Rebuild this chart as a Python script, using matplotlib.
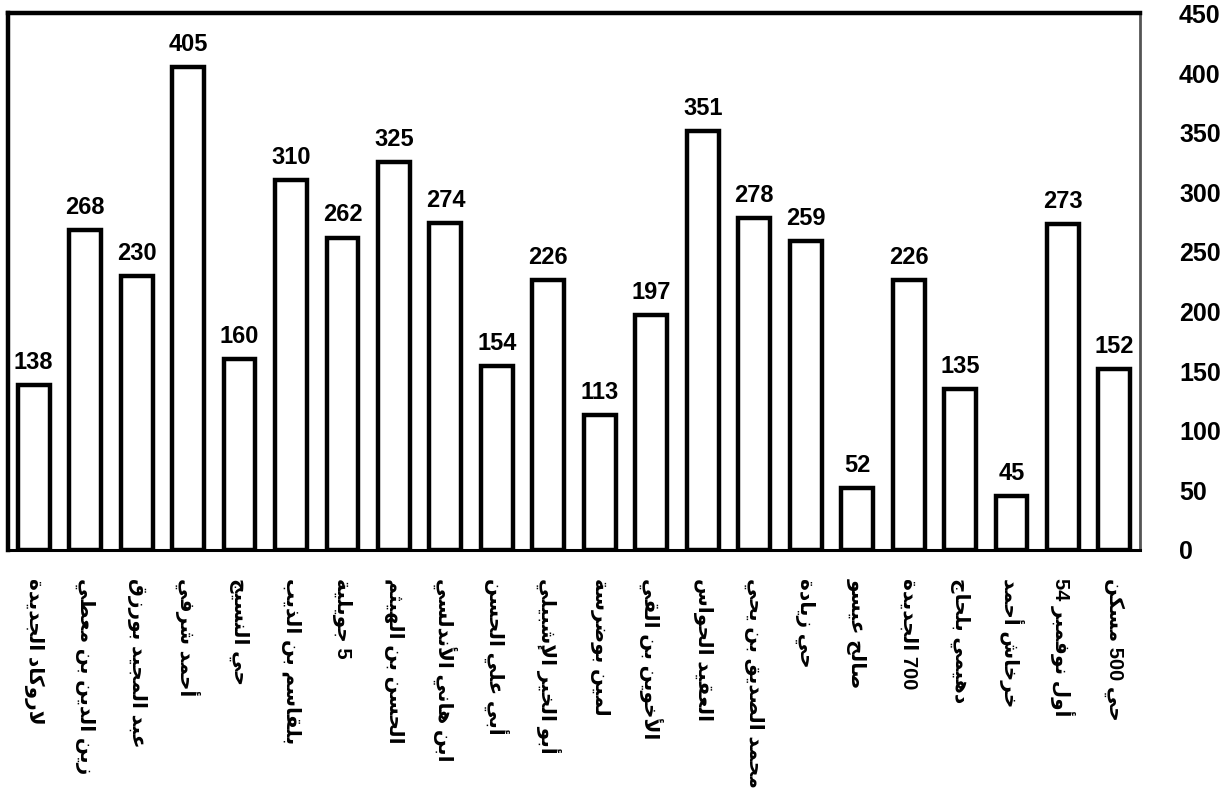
import matplotlib
matplotlib.use("Agg")
import matplotlib.pyplot as plt

districts = [
    "لاروكاد الجديدة", "زين الدين بن معطي", "عبد المجيد بورزق", "أحمد شرفي",
    "حي النسيج", "بلقاسم بن الذيب", "5 جويلية", "الحسن بن الهيثم",
    "ابن هاني الأندلسي", "أبي علي الحسن", "أبو الخير الإشبيلي", "لمين بوضرسة",
    "الأخوين بن القي", "العقيد الحواس", "محمد الصديق بن يحي", "حي زيادة",
    "صالح عيسو", "700 الجديدة", "دهيمي بلحاج", "خرخاش أحمد",
    "أول نوفمبر 54", "حي 500 مسكن",
]
counts = [138, 268, 230, 405, 160, 310, 262, 325, 274, 154, 226,
          113, 197, 351, 278, 259, 52, 226, 135, 45, 273, 152]
y_ticks = [0, 50, 100, 150, 200, 250, 300, 350, 400, 450]

NUM_FONT = ["Liberation Sans", "DejaVu Sans"]

# ── minimal Arabic shaping (matplotlib draws glyphs as-is, no joining / bidi) ──
# letter -> (first presentation form, dual-joining?)
_FORMS = {
    "ا": (0xFE8D, False), "أ": (0xFE83, False), "إ": (0xFE87, False), "آ": (0xFE81, False),
    "ب": (0xFE8F, True), "ة": (0xFE93, False), "ت": (0xFE95, True), "ث": (0xFE99, True),
    "ج": (0xFE9D, True), "ح": (0xFEA1, True), "خ": (0xFEA5, True), "د": (0xFEA9, False),
    "ذ": (0xFEAB, False), "ر": (0xFEAD, False), "ز": (0xFEAF, False), "س": (0xFEB1, True),
    "ش": (0xFEB5, True), "ص": (0xFEB9, True), "ض": (0xFEBD, True), "ط": (0xFEC1, True),
    "ظ": (0xFEC5, True), "ع": (0xFEC9, True), "غ": (0xFECD, True), "ف": (0xFED1, True),
    "ق": (0xFED5, True), "ك": (0xFED9, True), "ل": (0xFEDD, True), "م": (0xFEE1, True),
    "ن": (0xFEE5, True), "ه": (0xFEE9, True), "و": (0xFEED, False), "ى": (0xFEEF, False),
    "ي": (0xFEF1, True),
}
_LAM_ALEF = {"آ": 0xFEF5, "أ": 0xFEF7, "إ": 0xFEF9, "ا": 0xFEFB}


def _shape_word(word):
    tokens = []
    i = 0
    while i < len(word):
        c = word[i]
        if c == "ل" and i + 1 < len(word) and word[i + 1] in _LAM_ALEF:
            tokens.append((_LAM_ALEF[word[i + 1]], False))
            i += 2
        else:
            tokens.append(_FORMS.get(c, (ord(c), False)))
            i += 1
    out = []
    for k, (base, dual) in enumerate(tokens):
        prev = k > 0 and tokens[k - 1][1]
        nxt = dual and k + 1 < len(tokens)
        if prev and nxt:
            off = 3
        elif prev:
            off = 1
        elif nxt:
            off = 2
        else:
            off = 0
        out.append(chr(base + off))
    return "".join(reversed(out))


def rtl(text):
    words = []
    for w in text.split(" "):
        words.append(w if w.isdigit() else _shape_word(w))
    return " ".join(reversed(words))


# ── figure ─────────────────────────────────────────────────────────────────────
fig = plt.figure(figsize=(12.24, 7.89), dpi=100)
ax = fig.add_axes([0.0065, 0.303, 0.925, 0.680])

x = list(range(len(counts)))
ax.bar(x, counts, width=0.62, color="white", edgecolor="black", linewidth=3.2)
for xi, v in zip(x, counts):
    ax.annotate(str(v), (xi, v), xytext=(0, 8), textcoords="offset points",
                ha="center", va="bottom", fontsize=17, fontweight="bold", family=NUM_FONT)

ax.set_xlim(-0.5, len(counts) - 0.5)
ax.set_ylim(0, 450)

ax.yaxis.tick_right()
ax.tick_params(axis="x", length=0, pad=20)
ax.tick_params(axis="y", length=0, pad=28)

ax.set_xticks(x)
ax.set_xticklabels([rtl(d) for d in districts], rotation=-90, ha="center", va="top")
for t in ax.get_xticklabels():
    t.set_family(NUM_FONT)
    t.set_fontweight("bold")
    t.set_fontsize(14.5)

ax.set_yticks(y_ticks)
ax.set_yticklabels([str(t) for t in y_ticks])
for tick in ax.yaxis.get_major_ticks():
    for t in (tick.label1, tick.label2):
        t.set_family(NUM_FONT)
        t.set_fontweight("bold")
        t.set_fontsize(18)

for s in ("left", "top"):
    ax.spines[s].set_linewidth(3.2)
    ax.spines[s].set_color("black")
ax.spines["bottom"].set_linewidth(2.2)
ax.spines["bottom"].set_color("black")
ax.spines["right"].set_linewidth(2.0)
ax.spines["right"].set_color("#555555")

fig.savefig("out.png", dpi=100, facecolor="white")
